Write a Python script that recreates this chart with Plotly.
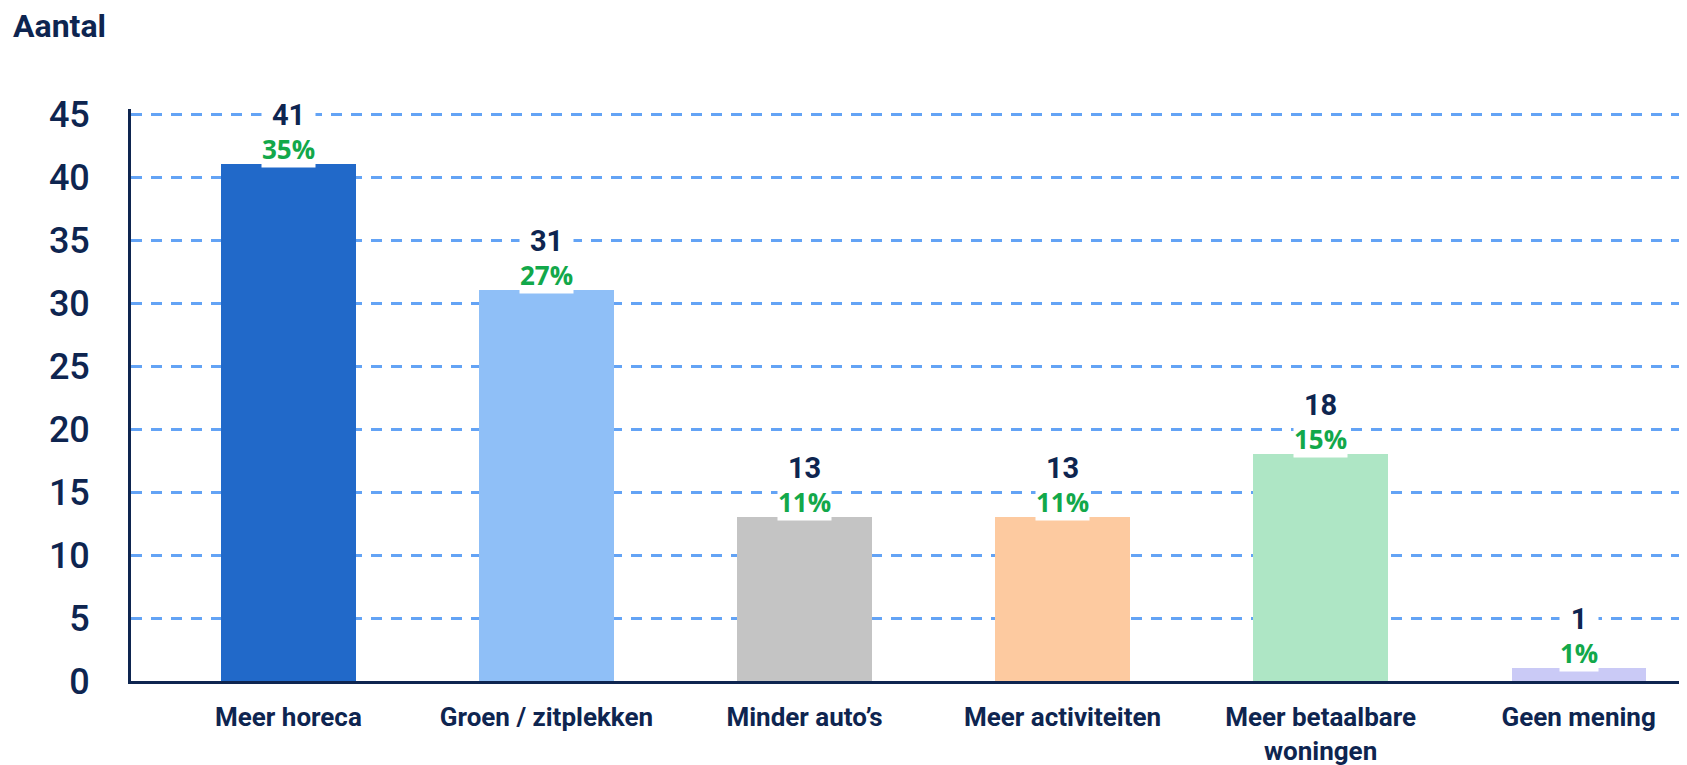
import plotly.graph_objects as go

categories = ["Meer horeca", "Groen / zitplekken", "Minder auto’s", "Meer activiteiten",
              "Meer betaalbare<br>woningen", "Geen mening"]
counts = [41, 31, 13, 13, 18, 1]
percent_labels = ["35%", "27%", "11%", "11%", "15%", "1%"]
bar_colors = ["#2169c9", "#8fbff7", "#c4c4c4", "#fdcaa0", "#aee6c5", "#cacaf6"]
y_ticks = [0, 5, 10, 15, 20, 25, 30, 35, 40, 45]

NAVY = "#0e2550"
GREEN = "#12a84a"

# browser body margin (8px) compensation
W, H = 1679, 757
Y_TOP = 45.4
PX_PER_UNIT = 12.6
PLOT_H = round(Y_TOP * PX_PER_UNIT)
L, B = 123, 84
T = H - B - PLOT_H

fig = go.Figure()
fig.add_trace(go.Bar(
    x=list(range(len(categories))), y=counts,
    marker=dict(color=bar_colors, line=dict(width=0)),
    width=0.52, hoverinfo="skip",
))

annotations = []
for i, (c, p) in enumerate(zip(counts, percent_labels)):
    label = (f"<span style='font-family:Roboto;font-size:29px;color:{NAVY}'><b>{c}</b></span>"
             f"<br><b>{p}</b>")
    annotations.append(dict(x=i, y=c, xref="x", yref="y", text=label,
                            showarrow=False, yanchor="bottom", yshift=-4,
                            font=dict(family="Open Sans", size=26, color=GREEN),
                            bgcolor="white", borderpad=0))

fig.update_layout(
    width=W, height=H,
    margin=dict(l=L, r=0, t=T, b=B),
    plot_bgcolor="white", paper_bgcolor="white",
    showlegend=False,
    bargap=0,
    annotations=annotations,
    title=dict(text="<b>Aantal</b>", xref="container", yref="container",
               x=5 / W, y=1 - 18 / H, xanchor="left", yanchor="middle",
               font=dict(family="Roboto", size=32, color=NAVY)),
    xaxis=dict(
        range=[-0.61, 5.42],
        tickmode="array", tickvals=list(range(len(categories))),
        ticktext=[f"<b>{c}</b>" for c in categories],
        tickfont=dict(family="Roboto", size=26, color=NAVY),
        showgrid=False, zeroline=False,
        showline=True, linecolor=NAVY, linewidth=3,
        ticks="outside", ticklen=11, tickcolor="rgba(0,0,0,0)",
        automargin=False,
    ),
    yaxis=dict(
        range=[0, Y_TOP],
        tickmode="array", tickvals=y_ticks,
        tickfont=dict(family="Roboto", size=36, color=NAVY, weight=500),
        showgrid=True, gridcolor="#63a3f5", gridwidth=2.5, griddash="11px,9px",
        zeroline=False,
        showline=True, linecolor=NAVY, linewidth=3,
        ticks="outside", ticklen=31, tickcolor="rgba(0,0,0,0)",
        automargin=False,
    ),
)

fig.write_html("out.html")
